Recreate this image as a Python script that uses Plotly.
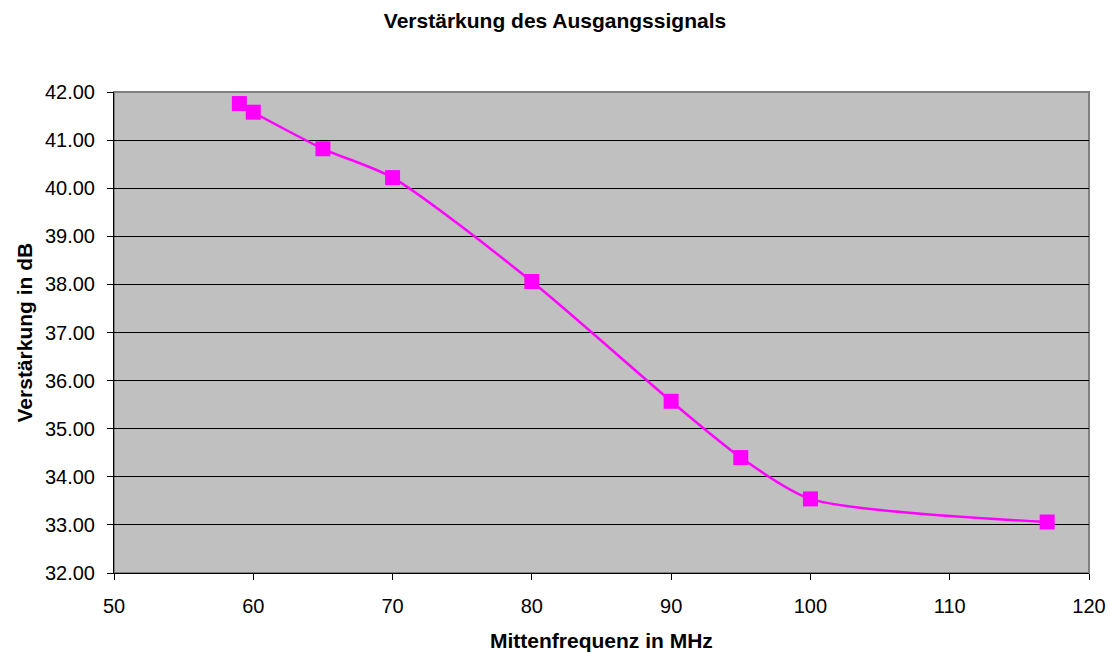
import plotly.graph_objects as go

# Mittenfrequenz (MHz) und gemessene Verstärkung (dB)
frequenz_mhz = [59, 60, 65, 70, 80, 90, 95, 100, 117]
verstaerkung_db = [41.76, 41.58, 40.82, 40.22, 38.06, 35.57, 34.40, 33.54, 33.06]

y_ticks = [32, 33, 34, 35, 36, 37, 38, 39, 40, 41, 42]
x_ticks = [50, 60, 70, 80, 90, 100, 110, 120]

font_family = "Liberation Sans, Arial, sans-serif"
W, H = 1110, 653
M_L, M_R, M_T, M_B = 114, 21, 92, 80

fig = go.Figure()
fig.add_trace(go.Scatter(
    x=frequenz_mhz,
    y=verstaerkung_db,
    mode="lines+markers",
    line=dict(color="#FF00FF", width=2.5, shape="spline", smoothing=0.7),
    marker=dict(symbol="square", size=15, color="#FF00FF"),
    showlegend=False,
))

fig.update_layout(
    width=W,
    height=H,
    margin=dict(l=M_L, r=M_R, t=M_T, b=M_B, autoexpand=False),
    paper_bgcolor="white",
    plot_bgcolor="#C0C0C0",
    font=dict(family=font_family, size=20, color="black"),
    title=dict(
        text="<b>Verstärkung des Ausgangssignals</b>",
        x=0.5, xref="container", xanchor="center",
        y=1 - 21 / H, yref="container", yanchor="middle",
        font=dict(size=21, family=font_family),
    ),
    xaxis=dict(
        range=[50, 120],
        tickvals=x_ticks,
        ticktext=[str(v) for v in x_ticks],
        showgrid=False,
        zeroline=False,
        automargin=False,
        showline=True, linecolor="black", linewidth=1,
        ticks="outside", ticklen=6, tickcolor="black",
        ticklabelstandoff=9,
    ),
    yaxis=dict(
        range=[32, 42],
        tickvals=y_ticks,
        ticktext=[f"{v:.2f}" for v in y_ticks],
        showgrid=True, gridcolor="black", gridwidth=1,
        zeroline=False,
        automargin=False,
        showline=True, linecolor="black", linewidth=1,
        ticks="outside", ticklen=6, tickcolor="black",
        ticklabelstandoff=8,
    ),
)

plot_w = W - M_L - M_R
plot_h = H - M_T - M_B

# Achsentitel
fig.add_annotation(
    text="<b>Mittenfrequenz in MHz</b>",
    xref="paper", yref="paper",
    x=0.5, y=-(640 - (H - M_B)) / plot_h,
    xanchor="center", yanchor="middle",
    showarrow=False, font=dict(size=21),
)
fig.add_annotation(
    text="<b>Verstärkung in dB</b>",
    xref="paper", yref="paper",
    x=-(M_L - 24) / plot_w, y=0.5,
    xanchor="center", yanchor="middle", textangle=-90,
    showarrow=False, font=dict(size=21),
)

# grauer Rahmen um die Zeichenfläche
fig.add_shape(type="rect", xref="paper", yref="paper", x0=0, y0=0, x1=1, y1=1,
              line=dict(color="#808080", width=2), layer="below")

fig.write_html("out.html")
